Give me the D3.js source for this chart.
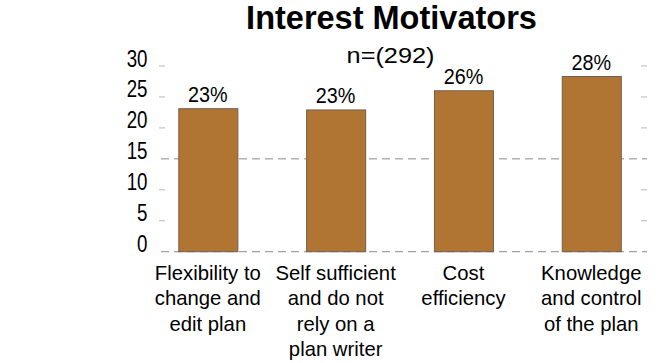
<!DOCTYPE html>
<html>
<head>
<meta charset="utf-8">
<script src="https://cdn.jsdelivr.net/npm/d3@7"></script>
<style>
  html, body { margin: 0; padding: 0; background: #fff; }
  svg { display: block; }
</style>
</head>
<body>
<svg id="chart" width="664" height="363"></svg>
<script>
// ---- data ----
const categories = [
  ["Flexibility to", "change and", "edit plan"],
  ["Self sufficient", "and do not", "rely on a", "plan writer"],
  ["Cost", "efficiency"],
  ["Knowledge", "and control", "of the plan"]
];
const values = [23.1, 22.9, 26.0, 28.3];
const yTicks = [0, 5, 10, 15, 20, 25, 30];
const dashedLines = [0, 15];
const title = "Interest Motivators";
const subtitle = "n=(292)";

// ---- layout ----
const arial = "'Liberation Sans', Arial, sans-serif";
const plotLeft = 161, plotRight = 647;
const narrowScale = 0.78, valScale = 0.9, subScale = 1.15;

const svg = d3.select("#chart");

const y = d3.scaleLinear().domain([0, 30]).range([251.7, 66]);
const keys = categories.map((c, i) => i);
const x = d3.scaleBand().domain(keys).range([143.8, 655.3])
  .paddingInner(0.538).paddingOuter(0.27);

// title
svg.append("text")
  .attr("x", 391.5).attr("y", 29)
  .attr("text-anchor", "middle")
  .style("font-family", arial).style("font-weight", "bold").style("font-size", "32.5px")
  .attr("fill", "#000")
  .text(title);

// subtitle (horizontally stretched as in the original)
svg.append("text")
  .attr("transform", `translate(390.5,62.5) scale(${subScale},1)`)
  .attr("text-anchor", "middle")
  .style("font-family", arial).style("font-size", "22px")
  .attr("fill", "#000")
  .text(subtitle);

// grid: dashed lines
svg.append("g").selectAll("line").data(dashedLines).join("line")
  .attr("x1", plotLeft).attr("x2", plotRight)
  .attr("y1", d => y(d)).attr("y2", d => y(d))
  .attr("stroke", "#8a8a8a").attr("stroke-width", 1)
  .attr("stroke-dasharray", "8,5");

// short end-marks for other gridlines
const otherTicks = yTicks.filter(t => !dashedLines.includes(t));
const marks = svg.append("g");
marks.selectAll("line.l").data(otherTicks).join("line").attr("class", "l")
  .attr("x1", plotLeft - 2).attr("x2", plotLeft + 4)
  .attr("y1", d => y(d)).attr("y2", d => y(d))
  .attr("stroke", "#b8b8b8").attr("stroke-width", 1);
marks.selectAll("line.r").data(otherTicks).join("line").attr("class", "r")
  .attr("x1", plotRight - 6).attr("x2", plotRight)
  .attr("y1", d => y(d)).attr("y2", d => y(d))
  .attr("stroke", "#b8b8b8").attr("stroke-width", 1);

// y axis labels
const yAxis = d3.axisLeft(y).tickValues(yTicks).tickSize(0).tickPadding(13);
const gy = svg.append("g").attr("transform", `translate(${plotLeft},0)`).call(yAxis);
gy.select(".domain").remove();
gy.selectAll("text")
  .attr("dy", "0")
  .attr("x", -13.5 / narrowScale)
  .attr("transform", `scale(${narrowScale},1)`)
  .style("font-family", arial).style("font-size", "24px")
  .attr("fill", "#000");

// bars
svg.append("g").selectAll("rect").data(values).join("rect")
  .attr("x", (d, i) => x(i) + 0.5)
  .attr("y", d => y(d))
  .attr("width", x.bandwidth())
  .attr("height", d => y(0) - y(d))
  .attr("fill", "#b17533")
  .attr("stroke", "#6f604e").attr("stroke-width", 1);

// value labels
svg.append("g").selectAll("text").data(values).join("text")
  .attr("transform", (d, i) => `translate(${x(i) + x.bandwidth() / 2},${y(d) - 7}) scale(${valScale},1)`)
  .attr("text-anchor", "middle")
  .style("font-family", arial).style("font-size", "22px")
  .attr("fill", "#000")
  .text(d => Math.round(d) + "%");

// x axis labels
const xAxis = d3.axisBottom(x).tickSize(0).tickPadding(0).tickFormat(() => "");
const gx = svg.append("g").attr("transform", `translate(0,${y(0)})`).call(xAxis);
gx.select(".domain").remove();
gx.selectAll(".tick text").each(function(i) {
  const t = d3.select(this);
  t.attr("y", 0).attr("dy", null)
    .style("font-family", arial).style("font-size", "20.3px")
    .attr("fill", "#000").attr("text-anchor", "middle");
  t.selectAll("tspan").data(categories[i]).join("tspan")
    .attr("x", 0)
    .attr("y", (d, k) => 28.5 + k * 25.3)
    .text(d => d);
});
</script>
</body>
</html>
